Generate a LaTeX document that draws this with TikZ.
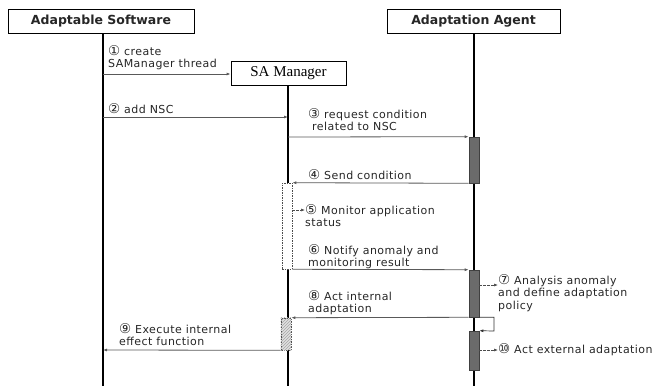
\documentclass[tikz,border=0pt]{standalone}
\usepackage{fontspec}
\setmainfont{DejaVu Sans}
\newfontfamily\serifx{Liberation Serif}
\newfontfamily\lblfont[LetterSpace=4]{DejaVu Sans}
\newfontfamily\cnfont{DejaVu Sans}
\newcommand{\cnum}[1]{{\cnfont\fontsize{13.5}{12.6}\selectfont #1}}
\usetikzlibrary{arrows.meta,patterns}
\begin{document}
\begin{tikzpicture}[x=1pt,y=-1pt,
  header/.style={draw=black,line width=0.8pt,minimum height=24pt,inner sep=0pt,font=\fontsize{12.5}{14}\selectfont\bfseries,text=black!85},
  life/.style={black,line width=1.3pt},
  msg/.style={draw=black!65,line width=0.8pt,-{Latex[length=4pt,width=3pt]}},
  dmsg/.style={draw=black!70,line width=0.6pt,dash pattern=on 2.5pt off 1.5pt,-{Latex[length=4pt,width=3pt]}},
  act/.style={draw=black!75,fill=black!58,line width=0.6pt,minimum width=10pt,inner sep=0pt},
  dbox/.style={draw=black!70,dash pattern=on 1.5pt off 1pt,line width=0.6pt,minimum width=10pt,inner sep=0pt},
  lbl/.style={anchor=north west,align=left,inner sep=0pt,font=\lblfont\fontsize{11}{12.6}\selectfont,text=black!85}
]
\useasboundingbox (0,0) rectangle (664,386);
% headers
\node[header,minimum width=186pt] (as) at (101,21) {Adaptable Software};
\node[header,minimum width=173pt] (aa) at (473.5,21) {Adaptation Agent};
\node[draw=black,line width=0.8pt,minimum width=115pt,minimum height=24pt,inner sep=0pt,font=\serifx\fontsize{15}{17}\selectfont] (sam) at (288.5,73) {SA Manager};
% lifelines
\coordinate (asb) at (103,386);
\coordinate (aab) at (474,386);
\coordinate (samb) at (288,386);
\draw[life] (as.south -| asb) -- (asb);
\draw[life] (aa.south -| aab) -- (aab);
\draw[life] (sam.south -| samb) -- (samb);
% activations
\node[act,minimum height=46pt] (a1) at (474,160) {};
\node[act,minimum height=47pt] (a2) at (474,293.5) {};
\node[act,minimum height=39pt] (a3) at (474,350.5) {};
\node[dbox,fill=white,minimum height=86pt] (d1) at (287,226) {};
\node[dbox,fill=black!12,minimum height=32pt] (h1) at (286,334) {};
\fill[pattern=north east lines,pattern color=black!35] (h1.north west) rectangle (h1.south east);
% messages
\coordinate (m1) at (103,74);
\coordinate (m2s) at (103,117);
\coordinate (m2e) at (288,117);
\coordinate (m3s) at (288,137);
\coordinate (m9e) at (103,350);
\draw[msg] (m1) -- (m1 -| sam.west);
\draw[msg] (m2s) -- (m2e);
\draw[msg] (m3s) -- (a1.north west);
\draw[msg] (a1.south west) -- (d1.north east);
\draw[msg] (d1.south east) -- (a2.north west);
\draw[msg] (a2.south west) -- (h1.north east);
\draw[msg] (h1.south west) -- (m9e);
\coordinate (loop) at (494,331);
\draw[draw=black!80,line width=0.7pt,-{Latex[length=4pt,width=3pt]}] (a2.south east) -| (loop) -- (a3.north east);
% labels
\node[lbl] (t1) at (108,45) {\cnum{①} create\\SAManager thread};
\node[lbl] (t2) at (108,103) {\cnum{②} add NSC};
\node[lbl] (t3) at (308,108) {\cnum{③} request condition\\\hspace*{4pt}related to NSC};
\node[lbl] (t4) at (308,169) {\cnum{④} Send condition};
\node[lbl] (t5) at (305,204) {\cnum{⑤} Monitor application\\status};
\node[lbl] (t6) at (308,244) {\cnum{⑥} Notify anomaly and\\monitoring result};
\node[lbl] (t7) at (498,274) {\cnum{⑦} Analysis anomaly\\and define adaptation\\policy};
\node[lbl] (t8) at (308,290) {\cnum{⑧} Act internal\\adaptation};
\node[lbl] (t9) at (119,323) {\cnum{⑨} Execute internal\\effect function};
\node[lbl] (t10) at (498,343) {\cnum{⑩} Act external adaptation};
% self-action dashed arrows
\coordinate (c5) at (0,210);
\coordinate (c7) at (0,285);
\coordinate (c10) at (0,350);
\draw[dmsg] (d1.east |- c5) -- (t5.west |- c5);
\draw[dmsg] (a2.east |- c7) -- (t7.west |- c7);
\draw[dmsg] (a3.east |- c10) -- (t10.west |- c10);
\end{tikzpicture}
\end{document}
